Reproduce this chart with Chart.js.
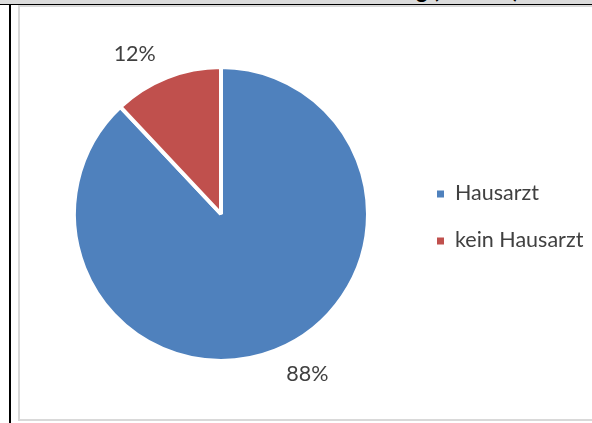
<!DOCTYPE html>
<html lang="de">
<head>
<meta charset="utf-8">
<title>Hausarztbindung</title>
<script src="https://cdn.jsdelivr.net/npm/chart.js@4/dist/chart.umd.min.js"></script>
<style>
  html, body { margin: 0; padding: 0; background: #ffffff; }
  body { width: 592px; height: 423px; position: relative; overflow: hidden; font-family: Lato, "Open Sans", sans-serif; }
  #band { position: absolute; left: 0; top: 0; width: 592px; height: 4px; background: #dcdcdc; overflow: hidden; }
  #band span { position: absolute; right: 73px; top: -21px; font: bold 22px/22px Lato, sans-serif; color: #000; white-space: nowrap; }
  #rule { position: absolute; left: 0; top: 4px; width: 592px; height: 1px; background: #000; }
  #vline { position: absolute; left: 9px; top: 4px; width: 2px; height: 419px; background: #000; }
  #frame { position: absolute; left: 18px; top: 5px; width: 580px; height: 416px; border: 2px solid #d9d9d9; border-right: none; background: #fff; box-sizing: border-box; }
  #wrap { position: absolute; left: 20px; top: 7px; width: 572px; height: 412px; }
</style>
</head>
<body>
<div id="band"><span>Hausarztbindung (n = 200)</span></div>
<div id="rule"></div>
<div id="vline"></div>
<div id="frame"></div>
<div id="wrap"><canvas id="c" width="572" height="412"></canvas></div>
<script>
// Anteile der Befragten mit / ohne Hausarzt
const categories = ['Hausarzt', 'kein Hausarzt'];
const shares = [88, 12];
const sliceColors = ['#4f81bd', '#c0504d'];

const textColor = '#404040';
const textFont = '21.5px Lato, "Open Sans", sans-serif';

// Percentage labels placed just outside each slice
const outsideLabels = {
  id: 'outsideLabels',
  afterDatasetsDraw(chart) {
    const ctx = chart.ctx;
    const meta = chart.getDatasetMeta(0);
    const data = chart.data.datasets[0].data;
    const total = data.reduce((a, b) => a + b, 0);
    ctx.save();
    ctx.font = textFont;
    ctx.fillStyle = textColor;
    ctx.textAlign = 'center';
    ctx.textBaseline = 'middle';
    meta.data.forEach((arc, i) => {
      const p = arc.getProps(['x', 'y', 'startAngle', 'endAngle', 'outerRadius'], true);
      const mid = (p.startAngle + p.endAngle) / 2 - 6.7 * Math.PI / 180;
      const r = p.outerRadius + 35;
      const pct = Math.round(data[i] / total * 100) + '%';
      ctx.fillText(pct, p.x + Math.cos(mid) * r, p.y + Math.sin(mid) * r);
    });
    ctx.restore();
  }
};

// Legend on the right: small square marker followed by the category name
const sideLegend = {
  id: 'sideLegend',
  afterDraw(chart) {
    const ctx = chart.ctx;
    const ds = chart.data.datasets[0];
    const x0 = 417, y0 = 187, step = 47, box = 7;
    ctx.save();
    ctx.font = textFont;
    ctx.textBaseline = 'middle';
    ctx.textAlign = 'left';
    chart.data.labels.forEach((label, i) => {
      const cy = y0 + i * step;
      ctx.fillStyle = ds.backgroundColor[i];
      ctx.fillRect(x0, cy - box / 2, box, box);
      ctx.fillStyle = textColor;
      ctx.fillText(label, x0 + 18, cy - 1);
    });
    ctx.restore();
  }
};

new Chart(document.getElementById('c'), {
  type: 'pie',
  data: {
    labels: categories,
    datasets: [{
      data: shares,
      backgroundColor: sliceColors,
      borderColor: '#ffffff',
      borderWidth: 4
    }]
  },
  options: {
    responsive: false,
    animation: false,
    rotation: 0,
    layout: { padding: { left: 52, right: 222, top: 58, bottom: 56 } },
    plugins: {
      legend: { display: false },
      tooltip: { enabled: false },
      title: { display: false }
    }
  },
  plugins: [outsideLabels, sideLegend]
});
</script>
</body>
</html>
